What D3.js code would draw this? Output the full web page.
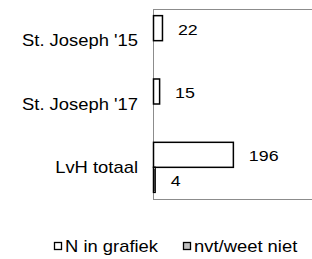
<!DOCTYPE html>
<html>
<head>
<meta charset="utf-8">
<script src="https://cdn.jsdelivr.net/npm/d3@7"></script>
<style>
  body { margin: 0; background: #fff; }
  text { font-family: "Liberation Sans", Arial, sans-serif; fill: #000; }
</style>
</head>
<body>
<div id="chart"></div>
<script>
// data
const categories = ["St. Joseph '15", "St. Joseph '17", "LvH totaal"];
const nInGrafiek = [22, 15, 196];
const nvtWeetNiet = [0, 0, 4];
const seriesNames = ["N in grafiek", "nvt/weet niet"];

const width = 312, height = 259;
const margin = { top: 9, left: 153, bottom: 60 };
const plotRight = 316;
const stretch = 1.15; // the original text is a bit wider than plain Arial

const svg = d3.select("#chart").append("svg")
    .attr("width", width)
    .attr("height", height);

// text placed with a horizontal stretch
function addText(px, py, str, size, anchor, baseline) {
    return svg.append("g")
        .attr("transform", "translate(" + px + "," + py + ") scale(" + stretch + ",1)")
        .append("text")
        .attr("text-anchor", anchor || "start")
        .attr("dominant-baseline", baseline || "auto")
        .style("font-size", size + "px")
        .text(str);
}

const x = d3.scaleLinear()
    .domain([0, 400])
    .range([margin.left, plotRight]);

const y = d3.scaleBand()
    .domain(categories)
    .range([margin.top, height - margin.bottom])
    .paddingInner(0.21)
    .paddingOuter(0.105);

const sub = d3.scaleBand()
    .domain(seriesNames)
    .range([0, y.bandwidth()]);

// plot area border
svg.append("rect")
    .attr("x", margin.left + 0.5)
    .attr("y", margin.top + 0.5)
    .attr("width", plotRight - margin.left)
    .attr("height", height - margin.bottom - margin.top)
    .attr("fill", "none")
    .attr("stroke", "#8c8c8c")
    .attr("stroke-width", 1);

const series = [
    { name: seriesNames[0], values: nInGrafiek, fill: "#fff" },
    { name: seriesNames[1], values: nvtWeetNiet, fill: "#c0c0c0" }
];

series.forEach((s) => {
    const rows = categories.map((c, i) => ({ cat: c, v: s.values[i] })).filter(d => d.v > 0);

    svg.selectAll("rect.bar-" + s.name.replace(/\W/g, ""))
        .data(rows)
        .enter().append("rect")
        .attr("x", x(0) + 0.5)
        .attr("y", d => y(d.cat) + sub(s.name))
        .attr("width", d => x(d.v) - x(0))
        .attr("height", sub.bandwidth())
        .attr("fill", s.fill)
        .attr("stroke", "#000")
        .attr("stroke-width", 1.5);

    rows.forEach((d) => {
        addText(x(d.v) + 16, y(d.cat) + sub(s.name) + sub.bandwidth() / 2 + 1.5, d.v, 15.5, "start", "central");
    });
});

// category labels
categories.forEach((c) => {
    addText(138, y(c) + y.bandwidth() / 2, c, 16, "end", "central");
});

// legend
const legendX = [54, 183];
series.forEach((s, i) => {
    svg.append("rect")
        .attr("x", legendX[i] + 0.5)
        .attr("y", 242.5)
        .attr("width", 7)
        .attr("height", 7)
        .attr("fill", s.fill)
        .attr("stroke", "#000")
        .attr("stroke-width", 1.3);
    addText(legendX[i] + 11, 252, s.name, 16);
});
</script>
</body>
</html>
